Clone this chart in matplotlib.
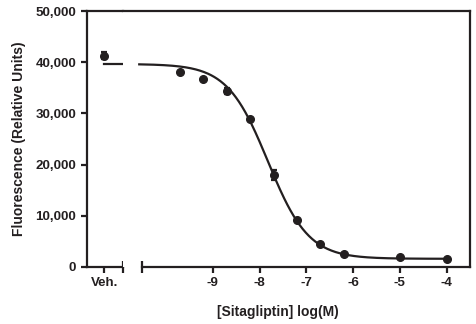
import numpy as np
import matplotlib
matplotlib.use("Agg")
import matplotlib.pyplot as plt
from matplotlib.ticker import FuncFormatter

plt.rcParams['font.family'] = ['Liberation Sans', 'DejaVu Sans']
plt.rcParams['font.weight'] = 'bold'

# measured points
log_conc = [-9.7, -9.2, -8.7, -8.2, -7.7, -7.2, -6.7, -6.2, -5.0, -4.0]
fluor = [38000, 36700, 34400, 28850, 17950, 9200, 4450, 2500, 1950, 1580]
fluor_err = [0, 0, 600, 0, 900, 0, 0, 0, 0, 0]

veh_value = 41300
veh_err = 600

# 4PL fit parameters
top = 39650
bottom = 1600
log_ic50 = -7.82
hill = 1.0

x_ticks = [-9, -8, -7, -6, -5, -4]
y_ticks = [0, 10000, 20000, 30000, 40000, 50000]

ink = '#231f20'
lw = 1.6

fig = plt.figure(figsize=(4.76, 3.24), dpi=100)
bot, h = 0.176, 0.790
ax_v = fig.add_axes([0.1821, bot, 0.0756, h])
ax_c = fig.add_axes([0.2578, bot, 0.7296, h])

for ax in (ax_v, ax_c):
    ax.set_ylim(0, 50000)
    for s in ax.spines.values():
        s.set_linewidth(lw)
        s.set_color(ink)
    ax.tick_params(colors=ink, width=lw, length=4.5, labelsize=9.6, pad=3)

# vehicle panel
ax_v.set_xlim(-1, 1.05)
ax_v.spines['right'].set_visible(False)
ax_v.errorbar([0], [veh_value], yerr=[veh_err], fmt='o', color=ink, ms=5.5,
              capsize=2.5, elinewidth=lw, capthick=lw)
ax_v.plot([0, 1.05], [top, top], color=ink, lw=lw, clip_on=False)
ax_v.set_xticks([0])
ax_v.set_xticklabels(['Veh.'])
ax_v.set_yticks(y_ticks)
ax_v.yaxis.set_major_formatter(FuncFormatter(lambda v, p: f'{int(v):,}'))
ax_v.plot([1], [0], marker='|', ms=8, mew=lw, color=ink,
          transform=ax_v.transAxes, clip_on=False)
ax_v.set_ylabel('Fluorescence (Relative Units)', fontsize=10, fontweight='bold',
                color=ink, labelpad=7)

# curve panel
xmin, xmax = -10.923, -3.502
ax_c.set_xlim(xmin, xmax)
ax_c.spines['left'].set_visible(False)
ax_c.spines['bottom'].set_bounds(-10.51, xmax)
ax_c.set_yticks([])
ax_c.set_xticks(x_ticks)
ax_c.set_xticklabels([str(t) for t in x_ticks])
ax_c.plot([-10.51], [0], marker='|', ms=8, mew=lw, color=ink, clip_on=False)

xs = np.linspace(-10.57, -4.0, 300)
fit = bottom + (top - bottom) / (1 + 10 ** ((xs - log_ic50) * hill))
ax_c.plot(xs, fit, color=ink, lw=lw)
ax_c.errorbar(log_conc, fluor, yerr=fluor_err, fmt='o', color=ink, ms=5.5,
              capsize=2.5, elinewidth=lw, capthick=lw)

fig.text((0.1821 + 0.9874) / 2, 0.025, '[Sitagliptin] log(M)', ha='center',
         fontsize=10, fontweight='bold', color=ink)

fig.savefig('out.png', dpi=100)
